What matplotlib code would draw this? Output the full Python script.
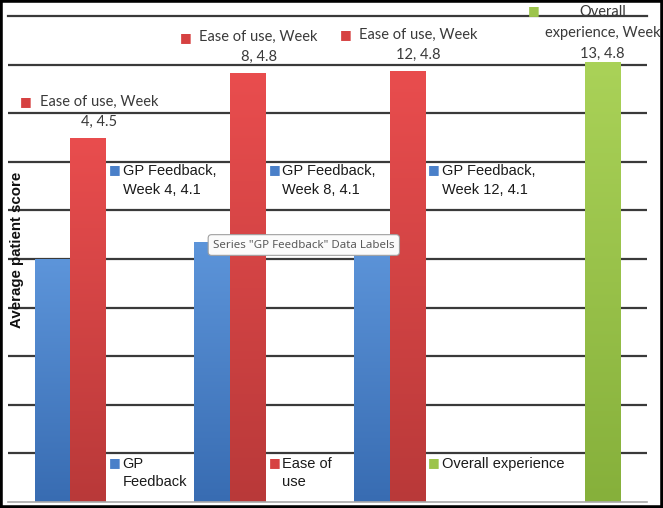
import numpy as np
import matplotlib.pyplot as plt
from matplotlib.colors import LinearSegmentedColormap
from matplotlib.patches import Rectangle

# values (axis 3.0 - 5.0, gridlines every 0.2)
categories = np.array([0, 1, 2, 3])
gp_scores = [4.0, 4.07, 4.07, np.nan]
ease_scores = [4.5, 4.765, 4.775, np.nan]
overall_scores = [np.nan, np.nan, np.nan, 4.81]

ease_labels = ['Ease of use, Week\n4, 4.5', 'Ease of use, Week\n8, 4.8', 'Ease of use, Week\n12, 4.8']
gp_labels = ['GP Feedback,\nWeek 4, 4.1', 'GP Feedback,\nWeek 8, 4.1', 'GP Feedback,\nWeek 12, 4.1']
overall_label = 'Overall\nexperience, Week\n13, 4.8'
legend_labels = ['GP\nFeedback', 'Ease of\nuse', 'Overall experience']

blue = ('#5d95da', '#386cb2', '#4a80c9')
red = ('#e94d4e', '#b93939', '#d64141')
green = ('#aad258', '#86b03b', '#9cc44b')

ymin, ymax = 3.0, 5.0
w = 0.222

fig = plt.figure(figsize=(6.63, 5.08), dpi=100)
fig.patch.set_facecolor('white')
ax = fig.add_axes([8 / 663, 6 / 508, 639 / 663, 486 / 508])


def grad_bars(bars, cols):
    for b in bars:
        h = b.get_height()
        if np.isnan(h):
            continue
        b.set_facecolor('none')
        b.set_edgecolor('none')
        x0 = b.get_x()
        cm = LinearSegmentedColormap.from_list('g', [cols[1], cols[0]])
        grad = np.linspace(0, 1, 256).reshape(-1, 1)
        im = ax.imshow(grad, extent=(x0, x0 + b.get_width(), ymin, h), origin='lower',
                       cmap=cm, aspect='auto', zorder=2)
        im.set_clip_path(b)


b1 = ax.bar(categories - w, gp_scores, w, zorder=2)
b2 = ax.bar(categories, ease_scores, w, zorder=2)
b3 = ax.bar(categories + w, overall_scores, w, zorder=2)
grad_bars(b1, blue)
grad_bars(b2, red)
grad_bars(b3, green)

ax.set_xlim(-0.5, 3.5)
ax.set_ylim(ymin, ymax)
ax.set_yticks(np.arange(3.2, 4.95, 0.2))
ax.yaxis.grid(True, color='#3a3a3a', lw=1.6)
ax.set_axisbelow(True)
ax.tick_params(left=False, labelleft=False, bottom=False, labelbottom=False)
for s in ['left', 'right']:
    ax.spines[s].set_visible(False)
ax.spines['top'].set_color('#3a3a3a')
ax.spines['top'].set_linewidth(1.6)
ax.spines['bottom'].set_color('#a8a8a8')
ax.spines['bottom'].set_linewidth(1.2)


def key(t, col, dx, dy, fs=9):
    ax.annotate('\u25a0', xy=(0, 1), xycoords=t, xytext=(dx, dy), textcoords='offset pixels',
                ha='right', va='center', color=col, fontsize=fs, family='DejaVu Sans')


calib = dict(family='Lato', fontsize=10.5, color='#3a3a3a')
arial = dict(family='Liberation Sans', fontsize=10.5, color='#1a1a1a')

# ease of use labels, centred above the red bars
for i, lab in enumerate(ease_labels):
    t = ax.annotate(lab, xy=(categories[i], ease_scores[i]), xytext=(11, 9),
                    textcoords='offset pixels', ha='center', va='bottom',
                    multialignment='center', linespacing=1.55, **calib)
    key(t, red[2], -8, -7)

t = ax.annotate(overall_label, xy=(categories[3] + w, overall_scores[3]), xytext=(0, 1),
                textcoords='offset pixels', ha='center', va='bottom',
                multialignment='center', linespacing=1.65, **calib)
key(t, green[2], -5, -6)

# GP feedback labels right of each cluster
for i, lab in enumerate(gp_labels):
    t = ax.annotate(lab, xy=(categories[i] + w / 2, 0.695), xycoords=('data', 'axes fraction'),
                    xytext=(17, 0), textcoords='offset pixels', ha='left', va='top',
                    linespacing=1.45, **arial)
    key(t, blue[2], -2, -5)

# legend entries along the bottom
for i, (lab, col) in enumerate(zip(legend_labels, [blue[2], red[2], green[2]])):
    t = ax.annotate(lab, xy=(categories[i] + w / 2, 0.092), xycoords=('data', 'axes fraction'),
                    xytext=(17, 0), textcoords='offset pixels', ha='left', va='top',
                    linespacing=1.3, **arial)
    key(t, col, -2, -5)

fig.text(17 / 663, 1 - 250 / 508, 'Average patient score', rotation=90, ha='center', va='center',
         fontsize=10.8, fontweight='bold', family='Liberation Sans', color='#111111')

fig.text(213 / 663, 1 - 245 / 508, 'Series "GP Feedback" Data Labels', ha='left', va='center',
         fontsize=8.3, family='Noto Sans', color='#5a5a5a', zorder=10,
         bbox=dict(boxstyle='round,pad=0.42,rounding_size=0.3', fc='#fbfbfb', ec='#a0a0a0', lw=0.8))

fig.patches.append(Rectangle((0, 0), 1, 1, transform=fig.transFigure, fill=False,
                             ec='black', lw=4, zorder=20))

plt.savefig('out.png', dpi=100)
